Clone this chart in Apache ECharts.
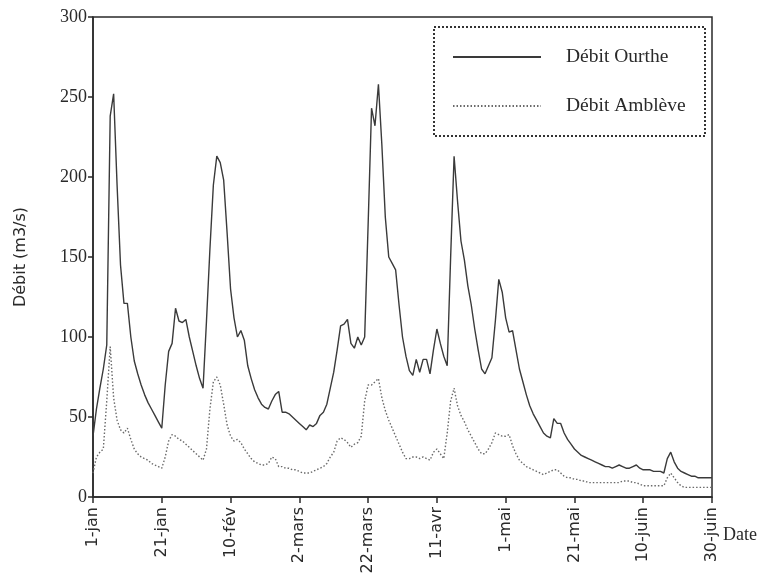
<!DOCTYPE html>
<html>
<head>
<meta charset="utf-8">
<script src="https://cdn.jsdelivr.net/npm/echarts@6/dist/echarts.min.js"></script>
<style>
  html, body { margin: 0; padding: 0; background: #fff; }
  #chart { width: 767px; height: 582px; }
</style>
</head>
<body>
<div id="chart"></div>
<script>
// Daily discharge, 1 January (day 0) to 30 June (day 180)
const tickLabels = ['1-jan', '21-jan', '10-fév', '2-mars', '22-mars', '11-avr', '1-mai', '21-mai', '10-juin', '30-juin'];

const ourthe = [
  38, 55, 68, 80, 95, 238, 252, 195, 145, 121,
  121, 100, 85, 77, 70, 64, 59, 55, 51, 47,
  43, 70, 91, 96, 118, 110, 109, 111, 100, 91,
  82, 74, 68, 110, 155, 195, 213, 209, 198, 165,
  130, 112, 100, 104, 98, 82, 74, 67, 62, 58,
  56, 55, 60, 64, 66, 53, 53, 52, 50, 48,
  46, 44, 42, 45, 44, 46, 51, 53, 58, 68,
  78, 92, 107, 108, 111, 96, 93, 100, 95, 100,
  170, 243, 232, 258, 220, 175, 150, 146, 142, 120,
  100, 88, 79, 76, 86, 78, 86, 86, 77, 92,
  105, 96, 88, 82, 150, 213, 185, 160, 148, 132,
  120, 105, 92, 80, 77, 82, 87, 110, 136, 128,
  112, 103, 104, 92, 80, 72, 64, 57, 52, 48,
  44, 40, 38, 37, 49, 46, 46, 40, 36, 33,
  30, 28, 26, 25, 24, 23, 22, 21, 20, 19,
  19, 18, 19, 20, 19, 18, 18, 19, 20, 18,
  17, 17, 17, 16, 16, 16, 15, 24, 28, 22,
  18, 16, 15, 14, 13, 13, 12, 12, 12, 12,
  12
];

const ambleve = [
  15, 25, 28, 30, 60, 94, 62, 48, 42, 40,
  43, 36, 30, 27, 25, 24, 23, 21, 20, 19,
  18, 25, 35, 39, 38, 36, 35, 33, 31, 29,
  27, 25, 23, 30, 55, 72, 75, 70, 58, 45,
  38, 35, 36, 34, 30, 27, 24, 22, 21, 20,
  20, 21, 25, 24, 19, 19, 18, 18, 17, 17,
  16, 15, 15, 15, 16, 17, 18, 19, 21, 25,
  28, 35, 37, 36, 34, 31, 33, 34, 38, 60,
  70, 70, 72, 74, 62, 54, 48, 43, 38, 33,
  28, 24, 24, 25, 25, 24, 25, 24, 23, 28,
  30, 27, 24, 40, 60, 68, 57, 51, 47, 42,
  38, 34, 30, 27, 27, 30, 34, 40, 39, 38,
  38, 39, 32, 27, 23, 21, 19, 18, 17, 16,
  15, 14, 15, 16, 17, 17, 15, 13, 12, 12,
  11, 11, 10, 10, 9, 9, 9, 9, 9, 9,
  9, 9, 9, 9, 10, 10, 10, 9, 9, 8,
  7, 7, 7, 7, 7, 7, 7, 12, 15, 12,
  9, 7, 6, 6, 6, 6, 6, 6, 6, 6,
  6
];

const toPairs = arr => arr.map((v, i) => [i, v]);

const serif = 'Liberation Serif';
const sans = 'DejaVu Sans';
const ink = '#2a2a2a';

const chart = echarts.init(document.getElementById('chart'), null, { renderer: 'canvas' });

chart.setOption({
  animation: false,
  backgroundColor: '#fff',
  grid: {
    left: 93, right: 55, top: 17, bottom: 85,
    show: true, borderColor: ink, borderWidth: 1.5, backgroundColor: 'transparent'
  },
  xAxis: {
    type: 'value',
    min: 0, max: 180, interval: 20,
    name: 'Date',
    nameLocation: 'end',
    nameGap: 5,
    nameTextStyle: { fontFamily: serif, fontSize: 18, color: ink, verticalAlign: 'top', padding: [29, 0, 0, 0] },
    axisLine: { show: true, lineStyle: { color: ink, width: 1.5 } },
    axisTick: { show: true, length: 6, lineStyle: { color: ink, width: 1.5 } },
    splitLine: { show: false },
    axisLabel: {
      rotate: 90,
      margin: 10,
      fontFamily: sans, fontSize: 16, color: ink,
      formatter: v => tickLabels[Math.round(v / 20)]
    }
  },
  yAxis: {
    type: 'value',
    min: 0, max: 300, interval: 50,
    name: 'Débit (m3/s)',
    nameLocation: 'middle',
    nameGap: 64,
    nameRotate: 90,
    nameTextStyle: { fontFamily: sans, fontSize: 16, color: ink },
    axisLine: { show: true, lineStyle: { color: ink, width: 1.5 } },
    axisTick: { show: true, length: 5, lineStyle: { color: ink, width: 1.5 } },
    splitLine: { show: false },
    axisLabel: { margin: 6, fontFamily: serif, fontSize: 18, color: ink }
  },
  legend: {
    orient: 'vertical',
    left: 452, top: 47,
    padding: 0,
    itemWidth: 88, itemHeight: 14, itemGap: 29,
    itemStyle: { color: 'transparent', borderColor: 'transparent', borderWidth: 0 },
    textStyle: { fontFamily: serif, fontSize: 19.5, color: ink, lineHeight: 14, padding: [0, 0, 0, 20] },
    data: ['Débit Ourthe', 'Débit Amblève']
  },
  graphic: [{
    type: 'rect',
    shape: { x: 434, y: 27, width: 271, height: 109 },
    style: { fill: 'none', stroke: '#333', lineWidth: 2, lineDash: [2, 2] },
    silent: true
  }],
  series: [
    {
      name: 'Débit Ourthe',
      type: 'line',
      symbol: 'none',
      data: toPairs(ourthe),
      lineStyle: { color: '#3a3a3a', width: 1.4 }
    },
    {
      name: 'Débit Amblève',
      type: 'line',
      symbol: 'none',
      data: toPairs(ambleve),
      lineStyle: { color: '#6a6a6a', width: 1.4, type: [1.5, 2] }
    }
  ]
});
</script>
</body>
</html>
